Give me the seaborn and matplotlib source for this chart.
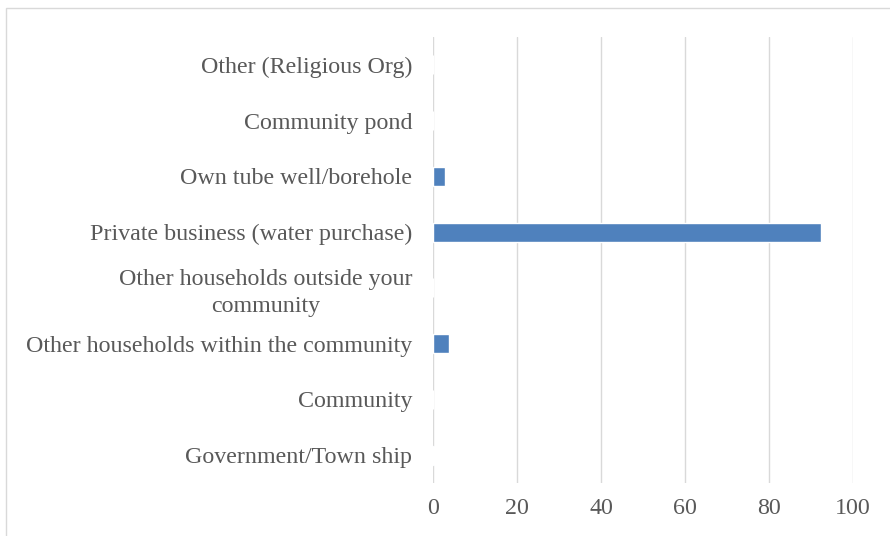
import matplotlib
matplotlib.use("Agg")
import matplotlib.pyplot as plt
from matplotlib.patches import Rectangle
import seaborn as sns
import pandas as pd

# Sources of water, listed top to bottom
sources = [
    "Other (Religious Org)",
    "Community pond",
    "Own tube well/borehole",
    "Private business (water purchase)",
    "Other households outside your\ncommunity",
    "Other households within the community",
    "Community",
    "Government/Town ship",
]
percent = [0.0, 0.0, 2.9, 92.4, 0.0, 3.8, 0.0, 0.3]
x_ticks = [0, 20, 40, 60, 80, 100]

df = pd.DataFrame({"source": sources, "percent": percent})

sns.set_theme(style="white")
plt.rcParams["font.family"] = ["Liberation Serif", "DejaVu Serif"]

fig = plt.figure(figsize=(8.9, 5.36), dpi=100)
ax = fig.add_axes([433 / 890, 1 - 483 / 536, 420 / 890, 446 / 536])

sns.barplot(data=df, x="percent", y="source", order=sources, orient="h",
            color="#4F81BD", saturation=1, width=0.34, ax=ax)

ax.set_xlim(0, 100)
ax.set_xticks(x_ticks)
ax.set_xticklabels([str(t) for t in x_ticks])
ax.set_xlabel("")
ax.set_ylabel("")
ax.grid(axis="x", color="#D9D9D9", linewidth=1.0)
ax.set_axisbelow(True)
for s in ax.spines.values():
    s.set_visible(False)
ax.tick_params(axis="both", length=0, labelsize=17.3, labelcolor="#595959")
ax.tick_params(axis="x", pad=11)
ax.tick_params(axis="y", pad=15)
for lbl in ax.get_yticklabels():
    lbl.set_multialignment("center")
    lbl.set_linespacing(1.35)

# Chart frame
fig.patches.append(Rectangle((5.5 / 890, -0.05), 1.2, 1 - 7.5 / 536 + 0.05,
                             transform=fig.transFigure, fill=False,
                             edgecolor="#D9D9D9", linewidth=1.0))

fig.savefig("out.png", dpi=100, facecolor="white")
